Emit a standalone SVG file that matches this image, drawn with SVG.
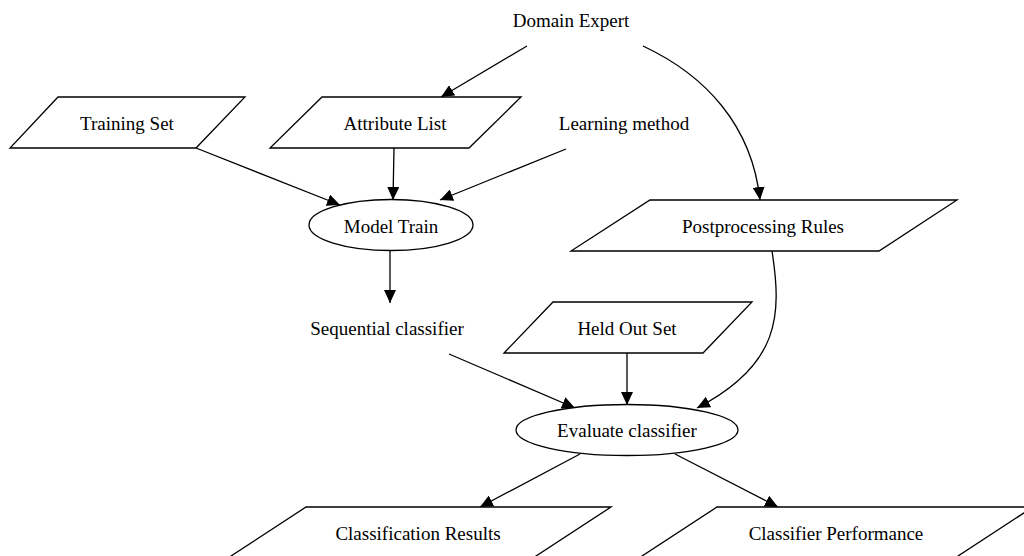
<svg xmlns="http://www.w3.org/2000/svg" width="1024" height="556" viewBox="0 0 1024 556">
<style>
.shape{fill:#fff;stroke:#000;stroke-width:1.3}
.edge{fill:none;stroke:#000;stroke-width:1.3}
text{font-family:"Liberation Serif","Times New Roman",serif;font-size:19px;fill:#000;text-anchor:middle}
</style>
<defs>
<marker id="arr" markerUnits="userSpaceOnUse" markerWidth="14" markerHeight="12" viewBox="0 0 14 12" refX="13" refY="6" orient="auto">
<path d="M0,0 L13,6 L0,12 Z" fill="#000"/>
</marker>
</defs>
<rect width="1024" height="556" fill="#fff"/>
<g id="edges">
<path class="edge" marker-end="url(#arr)" d="M527,46 L441,97"/>
<path class="edge" marker-end="url(#arr)" d="M643,46 C705,75 752,125 760,200"/>
<path class="edge" marker-end="url(#arr)" d="M196,148 L340,205"/>
<path class="edge" marker-end="url(#arr)" d="M394,148 L393,200"/>
<path class="edge" marker-end="url(#arr)" d="M566,149 L440,200"/>
<path class="edge" marker-end="url(#arr)" d="M390,251 L390,303"/>
<path class="edge" marker-end="url(#arr)" d="M772,251 C782,315 780,365 697,408"/>
<path class="edge" marker-end="url(#arr)" d="M449,354 L575,408"/>
<path class="edge" marker-end="url(#arr)" d="M627,353 L627,405"/>
<path class="edge" marker-end="url(#arr)" d="M580,454 L480,507"/>
<path class="edge" marker-end="url(#arr)" d="M675,454 L778,507"/>
</g>
<g id="domain_expert"><text x="571" y="27">Domain Expert</text></g>
<g id="training_set"><polygon class="shape" points="58,97 245,97 196,148 10,148"/><text x="127" y="130">Training Set</text></g>
<g id="attribute_list"><polygon class="shape" points="322,97 521,97 469,148 270,148"/><text x="395" y="130">Attribute List</text></g>
<g id="learning_method"><text x="624" y="130">Learning method</text></g>
<g id="model_train"><ellipse class="shape" cx="391" cy="225" rx="82" ry="25.5"/><text x="391" y="233">Model Train</text></g>
<g id="postprocessing_rules"><polygon class="shape" points="650,200 957,200 879,251 571,251"/><text x="763" y="233">Postprocessing Rules</text></g>
<g id="sequential_classifier"><text x="387" y="335">Sequential classifier</text></g>
<g id="held_out_set"><polygon class="shape" points="553,302 752,302 703,353 504,353"/><text x="627" y="335">Held Out Set</text></g>
<g id="evaluate_classifier"><ellipse class="shape" cx="627" cy="430" rx="111" ry="25.5"/><text x="627" y="437">Evaluate classifier</text></g>
<g id="classification_results"><polygon class="shape" points="306,507 611,507 533,558 228,558"/><text x="418" y="540">Classification Results</text></g>
<g id="classifier_performance"><polygon class="shape" points="717,507 1033,507 955,558 639,558"/><text x="836" y="540">Classifier Performance</text></g>
</svg>
